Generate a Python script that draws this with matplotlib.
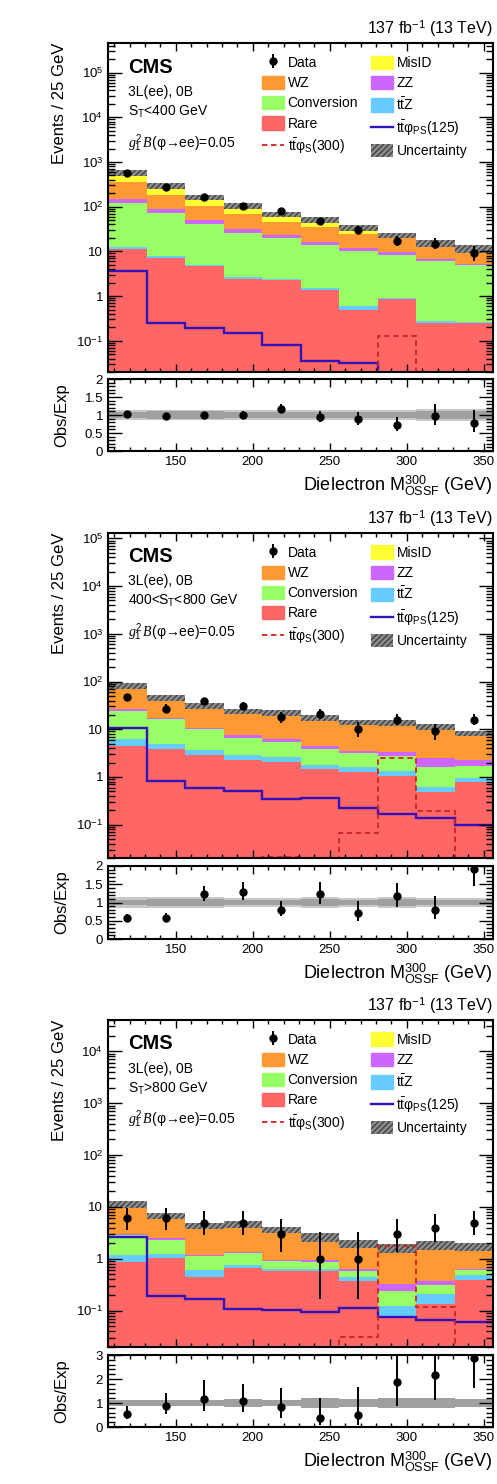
import numpy as np
import matplotlib.pyplot as plt
from matplotlib.patches import Patch
from matplotlib.lines import Line2D
from matplotlib.ticker import FixedLocator, MultipleLocator, LogLocator, NullFormatter

plt.rcParams['font.family'] = ['Liberation Sans', 'DejaVu Sans']
plt.rcParams['mathtext.fontset'] = 'custom'
plt.rcParams['mathtext.rm'] = 'Liberation Sans'
plt.rcParams['mathtext.it'] = 'Liberation Serif:italic'
plt.rcParams['mathtext.bf'] = 'Liberation Sans:bold'
plt.rcParams['hatch.linewidth'] = 0.9
plt.rcParams['hatch.color'] = '#3c3c3c'

# bins of 25 GeV in dielectron mass
edges = np.arange(106, 357, 25)
centers = edges[:-1] + 12.5

# ---- S_T < 400 GeV
rare_lo = [11.3, 7.2, 4.6, 2.35, 2.3, 1.4, 0.49, 0.85, 0.255, 0.25]
ttz_lo = [1.2, 0.5, 0.3, 0.35, 0.1, 0.08, 0.11, 0.04, 0.025, 0.01]
conv_lo = [105.5, 64.3, 35.1, 22.8, 17.4, 12.1, 9.4, 7.5, 5.7, 4.65]
zz_lo = [34, 17, 10, 6.5, 2.9, 2.4, 1.9, 1.2, 0.9, 0.4]
wz_lo = [213, 93, 55, 37, 23.3, 20, 12.8, 13.1, 8.1, 6.0]
misid_lo = [205, 107, 59, 35, 23, 14.6, 9.0, 0.5, 0.3, 0.2]
data_lo = [578, 280, 165, 104, 81, 48, 30, 17, 15, 9]
ps125_lo = [3.7, 0.25, 0.197, 0.153, 0.081, 0.036, 0.032, 1e-4, 1e-4, 1e-4]
s300_lo = [1e-4, 1e-4, 1e-4, 1e-4, 1e-4, 1e-4, 1e-4, 0.129, 1e-4, 1e-4]
unc_lo = [0.15, 0.15, 0.14, 0.14, 0.13, 0.15, 0.14, 0.14, 0.18, 0.18]
inner_lo = [0.08, 0.1, 0.1, 0.08, 0.08, 0.08, 0.08, 0.09, 0.12, 0.12]

# ---- 400 < S_T < 800 GeV
rare_mid = [4.5, 3.8, 2.9, 2.3, 2.08, 1.47, 1.29, 1.07, 0.48, 0.80]
ttz_mid = [1.7, 1.1, 0.8, 0.57, 0.49, 0.31, 0.3, 0.29, 0.13, 0.14]
conv_mid = [17.5, 11.3, 6.3, 3.83, 2.93, 2.02, 1.57, 1.34, 0.98, 0.78]
zz_mid = [2.3, 1.3, 0.8, 0.8, 0.7, 0.7, 0.34, 0.7, 0.86, 0.54]
wz_mid = [52.5, 27.5, 20, 15.8, 15.6, 12.3, 10, 10, 8.55, 5.94]
misid_mid = [1.5, 1.0, 0.8, 0.7, 0.5, 0.4, 0.3, 0.3, 0.2, 0.1]
data_mid = [47, 27, 39, 31, 18, 21, 10, 16, 9, 16]
ps125_mid = [10.5, 0.84, 0.58, 0.50, 0.35, 0.36, 0.226, 0.167, 0.138, 0.097]
s300_mid = [1e-4, 1e-4, 1e-4, 1e-4, 0.021, 1e-4, 0.067, 2.5, 0.19, 1e-4]
unc_mid = [0.14, 0.14, 0.14, 0.13, 0.13, 0.15, 0.13, 0.14, 0.13, 0.13]
inner_mid = [0.08, 0.09, 0.09, 0.08, 0.08, 0.09, 0.08, 0.09, 0.08, 0.08]

# ---- S_T > 800 GeV
rare_hi = [0.85, 1.03, 0.44, 0.66, 0.57, 0.57, 0.37, 0.078, 0.136, 0.39]
ttz_hi = [0.34, 0.22, 0.17, 0.11, 0.08, 0.08, 0.08, 0.043, 0.07, 0.09]
conv_hi = [1.66, 1.1, 0.54, 0.53, 0.25, 0.2, 0.14, 0.124, 0.11, 0.12]
zz_hi = [0.15, 0.15, 0.04, 0.08, 0.06, 0.12, 0.06, 0.085, 0.05, 0.03]
wz_hi = [8.1, 4.1, 3.06, 3.27, 2.6, 1.68, 1.32, 1.26, 1.46, 1.09]
misid_hi = [0.1, 0.1, 0.05, 0.05, 0.04, 0.03, 0.02, 0.01, 0.01, 0.01]
data_hi = [6, 6, 5, 5, 3, 1, 1, 3, 4, 5]
ps125_hi = [2.6, 0.19, 0.17, 0.108, 0.105, 0.094, 0.113, 0.075, 0.065, 0.062]
s300_hi = [1e-4, 1e-4, 1e-4, 1e-4, 1e-4, 1e-4, 0.031, 1.73, 0.116, 1e-4]
unc_hi = [0.14, 0.14, 0.14, 0.15, 0.13, 0.2, 0.18, 0.2, 0.2, 0.18]
inner_hi = [0.14, 0.14, 0.14, 0.15, 0.13, 0.2, 0.18, 0.2, 0.2, 0.18]

proc_colors = ['#ff6666', '#66ccff', '#99ff66', '#cc66ff', '#ff9933', '#ffff33']
ps_color = '#3311bb'
s300_color = '#cc2222'

W, H = 497, 1484
fig = plt.figure(figsize=(W / 100, H / 100), dpi=100)
x0, x1 = 108, 493

# pixel rows: main top, main bottom, ratio top, ratio bottom
rows = [(43, 372, 379, 451), (533, 858, 866, 939), (1020, 1347, 1355, 1427)]


def pix_axes(top, bottom):
    return fig.add_axes([x0 / W, 1 - bottom / H, (x1 - x0) / W, (bottom - top) / H])


def poisson_err(n):
    n = np.asarray(n, float)
    lo = n * (1 - 1 / (9 * n) - 1 / (3 * np.sqrt(n))) ** 3
    hi = (n + 1) * (1 - 1 / (9 * (n + 1)) + 1 / (3 * np.sqrt(n + 1))) ** 3
    return n - lo, hi - n


log_labels = {0.1: r'$10^{-1}$', 1: '1', 10: '10', 100: r'$10^2$',
              1e3: r'$10^3$', 1e4: r'$10^4$', 1e5: r'$10^5$'}


def draw(row, procs, data, ps, s300, unc, inner, ymax, region, rmax, rmajor, rminor, rlabels):
    top, bottom, rtop, rbottom = row
    ax = pix_axes(top, bottom)
    rax = pix_axes(rtop, rbottom)

    cum = np.zeros(10)
    for vals, col in zip(procs, proc_colors):
        new = cum + np.array(vals)
        ax.stairs(new, edges, baseline=np.maximum(cum, 1e-3), fill=True, color=col, lw=0)
        cum = new
    total = cum
    unc = np.array(unc)
    inner = np.array(inner)
    ax.stairs(total * (1 + unc), edges, baseline=total * (1 - unc), fill=True,
              facecolor='#8c8c8c', edgecolor='#3c3c3c', hatch='//////', lw=0)

    ax.stairs(ps, edges, baseline=None, color=ps_color, lw=1.7)
    ax.stairs(s300, edges, baseline=None, color=s300_color, lw=1.3, ls=(0, (3, 2)))

    data = np.array(data, float)
    elo, ehi = poisson_err(data)
    dh = ax.errorbar(centers, data, yerr=[elo, ehi], fmt='o', color='k', ms=5, lw=1.4,
                     capsize=0)

    ax.set_yscale('log')
    ax.set_xlim(106, 356)
    ax.set_ylim(0.02, ymax)
    majors = [v for v in log_labels if v < ymax]
    ax.yaxis.set_major_locator(FixedLocator(majors))
    ax.set_yticklabels([log_labels[v] for v in majors])
    ax.yaxis.set_minor_locator(LogLocator(subs=np.arange(2, 10)))
    ax.yaxis.set_minor_formatter(NullFormatter())
    ax.xaxis.set_major_locator(MultipleLocator(50))
    ax.xaxis.set_minor_locator(MultipleLocator(10))
    ax.tick_params(labelbottom=False)

    for a in (ax, rax):
        a.tick_params(which='both', direction='in', top=True, right=True, labelsize=9.5,
                      width=1.0)
        a.tick_params(axis='y', which='major', length=10)
        a.tick_params(axis='y', which='minor', length=5)
        a.tick_params(axis='x', which='major', length=6)
        a.tick_params(axis='x', which='minor', length=3)
        for s in a.spines.values():
            s.set_linewidth(1.5)

    # text
    ax.text(0.052, 0.927, 'CMS', transform=ax.transAxes, fontsize=14.5,
            fontweight='bold', va='center')
    ax.text(0.052, 0.851, '3L(ee), 0B', transform=ax.transAxes, fontsize=10, va='center')
    ax.text(0.052, 0.79, region, transform=ax.transAxes, fontsize=10, va='center')
    ax.text(0.052, 0.696, r'$g^2_1\,B$(φ→ee)=0.05', transform=ax.transAxes,
            fontsize=10, va='center')
    ax.text(1.0, 1.012, r'137 fb$^{-1}$ (13 TeV)', transform=ax.transAxes,
            fontsize=11.5, ha='right', va='bottom')
    fig.text(60 / W, 1 - top / H, 'Events / 25 GeV', rotation=90, ha='center',
             va='top', fontsize=12)

    handles = [dh, Patch(color=proc_colors[4]), Patch(color=proc_colors[2]),
               Patch(color=proc_colors[0]),
               Line2D([], [], color=s300_color, lw=1.3, ls=(0, (3, 2))),
               Patch(color=proc_colors[5]), Patch(color=proc_colors[3]),
               Patch(color=proc_colors[1]),
               Line2D([], [], color=ps_color, lw=1.7),
               Patch(facecolor='#8c8c8c', edgecolor='#3c3c3c', hatch='//////', lw=0)]
    labels = ['Data', 'WZ', 'Conversion', 'Rare', r't$\bar{\rm t}$φ$_{\rm S}$(300)',
              'MisID', 'ZZ', r't$\bar{\rm t}$Z', r't$\bar{\rm t}$φ$_{\rm PS}$(125)',
              'Uncertainty']
    ax.legend(handles, labels, ncol=2, loc='upper left', bbox_to_anchor=(0.40, 0.962),
              frameon=False, fontsize=10, handlelength=1.6, handleheight=1.1,
              handletextpad=0.25, columnspacing=0.9, labelspacing=0.42,
              borderpad=0, borderaxespad=0)

    # ratio
    rax.stairs(1 + unc, edges, baseline=1 - unc, fill=True, color='#c8c8c8', lw=0)
    rax.stairs(1 + inner, edges, baseline=1 - inner, fill=True, color='#a0a0a0', lw=0)
    rax.errorbar(centers, data / total, yerr=[elo / total, ehi / total], fmt='o',
                 color='k', ms=5, lw=1.4, capsize=0)
    rax.set_xlim(106, 356)
    rax.set_ylim(0, rmax)
    rax.yaxis.set_major_locator(FixedLocator(rmajor))
    rax.set_yticklabels(rlabels)
    rax.yaxis.set_minor_locator(MultipleLocator(rminor))
    rax.xaxis.set_major_locator(MultipleLocator(50))
    rax.xaxis.set_minor_locator(MultipleLocator(10))
    rax.set_xticks([150, 200, 250, 300, 350])
    fig.text(62 / W, 1 - (rtop + rbottom) / 2 / H, 'Obs/Exp', rotation=90, ha='center',
             va='center', fontsize=12)
    fig.text(x1 / W, 1 - (rbottom + 40) / H, r'Dielectron M$^{300}_{\rm OSSF}$ (GeV)',
             ha='right', va='baseline', fontsize=13)


draw(rows[0], [rare_lo, ttz_lo, conv_lo, zz_lo, wz_lo, misid_lo], data_lo, ps125_lo,
     s300_lo, unc_lo, inner_lo, 4.6e5, r'S$_{\rm T}$<400 GeV', 2,
     [0, 0.5, 1, 1.5, 2], 0.1, ['0', '0.5', '1', '1.5', '2'])
draw(rows[1], [rare_mid, ttz_mid, conv_mid, zz_mid, wz_mid, misid_mid], data_mid,
     ps125_mid, s300_mid, unc_mid, inner_mid, 1.3e5, r'400<S$_{\rm T}$<800 GeV', 2,
     [0, 0.5, 1, 1.5, 2], 0.1, ['0', '0.5', '1', '1.5', '2'])
draw(rows[2], [rare_hi, ttz_hi, conv_hi, zz_hi, wz_hi, misid_hi], data_hi, ps125_hi,
     s300_hi, unc_hi, inner_hi, 4e4, r'S$_{\rm T}$>800 GeV', 3,
     [0, 1, 2, 3], 0.2, ['0', '1', '2', '3'])

fig.savefig('out.png', dpi=100)
